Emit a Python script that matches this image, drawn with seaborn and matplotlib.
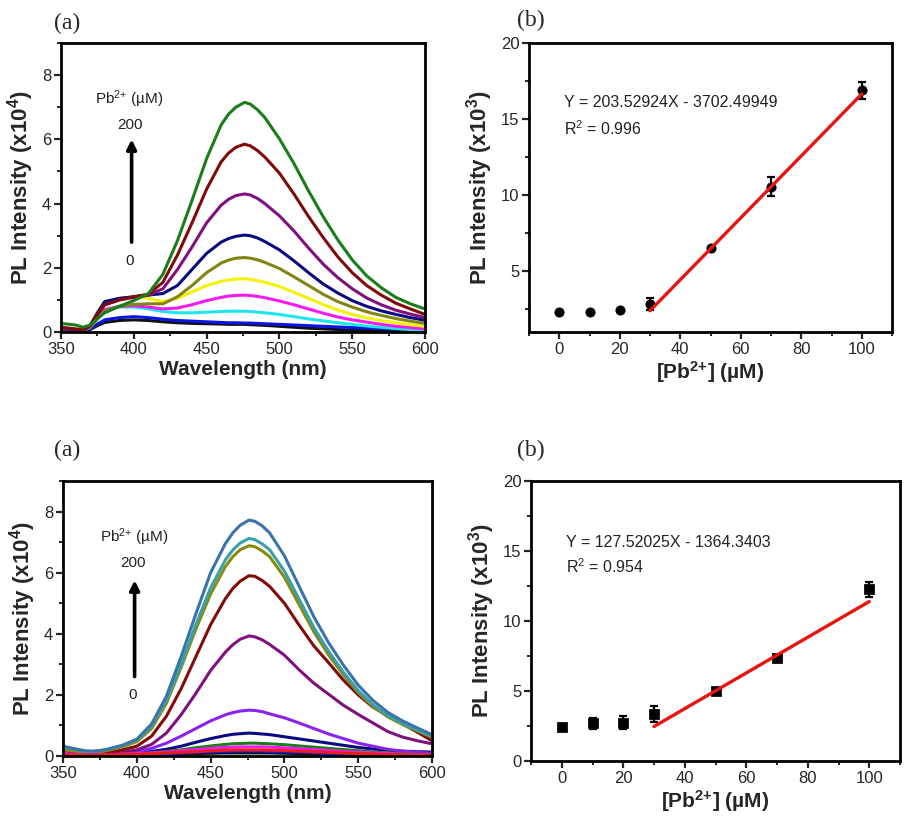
import numpy as np
import pandas as pd
import matplotlib
matplotlib.use("Agg")
import matplotlib.pyplot as plt
import seaborn as sns
from matplotlib.ticker import MultipleLocator

sns.set_theme(style="ticks")
plt.rcParams['font.family'] = ['Liberation Sans', 'DejaVu Sans']
plt.rcParams['mathtext.fontset'] = 'custom'
plt.rcParams['mathtext.rm'] = 'Liberation Sans'
plt.rcParams['mathtext.bf'] = 'Liberation Sans:bold'
plt.rcParams['mathtext.it'] = 'Liberation Sans:italic'

# ---------------- data ----------------
wavelength = [350, 360, 365, 370, 375, 380, 390, 400, 410, 420, 430, 440, 450, 460, 465, 470,
              476, 480, 485, 490, 500, 510, 520, 530, 540, 550, 560, 570, 580, 590, 600]

# top-left spectra (x10^4)
top_green   = [.27,.22,.15,.22,.42,.6,.8,.98,1.2,1.8,2.85,4.1,5.4,6.45,6.78,7.0,7.15,7.1,6.92,6.68,6.02,5.25,4.4,3.6,2.88,2.25,1.75,1.38,1.08,.88,.72]
top_maroon  = [.15,.1,.07,.2,.55,.85,1.0,1.1,1.18,1.55,2.4,3.4,4.45,5.3,5.57,5.75,5.85,5.8,5.65,5.45,4.95,4.3,3.6,2.95,2.35,1.85,1.45,1.15,.9,.72,.55]
top_purple  = [.12,.08,.06,.2,.55,.85,1.0,1.08,1.15,1.35,1.95,2.65,3.4,3.95,4.13,4.25,4.3,4.27,4.16,4.0,3.62,3.15,2.62,2.12,1.7,1.35,1.06,.85,.68,.56,.45]
top_navy    = [.1,.07,.05,.2,.6,.95,1.05,1.1,1.15,1.2,1.45,1.95,2.45,2.8,2.91,2.98,3.02,3.0,2.93,2.82,2.56,2.22,1.85,1.5,1.22,.98,.8,.66,.55,.45,.37]
top_olive   = [.1,.07,.05,.15,.4,.65,.8,.86,.88,.88,1.1,1.45,1.85,2.15,2.24,2.3,2.32,2.3,2.25,2.17,1.98,1.72,1.45,1.18,.95,.78,.63,.52,.42,.34,.27]
top_yellow  = [.1,.07,.05,.2,.6,.95,1.05,1.1,1.05,.95,1.05,1.25,1.45,1.58,1.62,1.65,1.66,1.64,1.6,1.55,1.42,1.24,1.05,.86,.69,.55,.44,.36,.29,.23,.18]
top_magenta = [.08,.06,.05,.15,.45,.7,.8,.82,.78,.72,.75,.85,.98,1.08,1.12,1.14,1.15,1.14,1.11,1.07,.97,.85,.72,.59,.47,.38,.31,.24,.18,.14,.1]
top_cyan    = [.08,.06,.05,.15,.45,.68,.78,.78,.72,.64,.6,.6,.62,.64,.65,.65,.65,.64,.62,.6,.55,.48,.41,.35,.29,.24,.19,.15,.11,.08,.06]
top_blue    = [.06,.05,.04,.1,.25,.38,.45,.48,.45,.4,.36,.34,.32,.3,.29,.29,.28,.28,.27,.26,.24,.22,.2,.18,.16,.14,.13,.11,.1,.09,.08]
top_black   = [.05,.04,.03,.08,.2,.3,.36,.38,.36,.32,.29,.27,.26,.25,.24,.24,.24,.23,.22,.21,.18,.15,.12,.1,.08,.06,.05,.04,.03,.03,.02]

# bottom-left spectra (x10^4)
bot_steel   = [.32,.22,.17,.16,.18,.22,.35,.55,1.05,1.95,3.25,4.65,6.0,6.95,7.3,7.55,7.72,7.68,7.53,7.3,6.55,5.55,4.55,3.7,2.97,2.32,1.82,1.43,1.15,.92,.7]
bot_teal    = [.3,.2,.15,.15,.17,.22,.34,.52,.98,1.82,3.0,4.3,5.5,6.42,6.74,6.97,7.12,7.08,6.94,6.75,6.05,5.13,4.2,3.42,2.74,2.14,1.68,1.32,1.07,.85,.65]
bot_olive   = [.2,.15,.12,.12,.14,.18,.3,.47,.9,1.72,2.9,4.15,5.3,6.2,6.52,6.75,6.88,6.85,6.71,6.52,5.85,4.95,4.06,3.3,2.65,2.07,1.62,1.28,1.03,.82,.62]
bot_maroon  = [.15,.1,.08,.08,.1,.12,.2,.32,.65,1.3,2.2,3.25,4.3,5.15,5.48,5.72,5.9,5.88,5.74,5.55,5.0,4.28,3.6,3.05,2.48,2.0,1.6,1.32,1.05,.78,.5]
bot_purple  = [.12,.08,.06,.06,.07,.08,.12,.2,.38,.75,1.35,2.05,2.8,3.4,3.64,3.82,3.93,3.9,3.8,3.65,3.3,2.82,2.38,2.02,1.66,1.36,1.08,.8,.62,.5,.4]
bot_violet  = [.05,.05,.05,.06,.07,.08,.1,.14,.25,.42,.65,.9,1.15,1.35,1.42,1.47,1.5,1.49,1.45,1.38,1.25,1.08,.9,.72,.57,.42,.32,.22,.16,.12,.09]
bot_navy    = [.06,.05,.04,.04,.05,.05,.07,.1,.15,.22,.32,.45,.57,.67,.71,.73,.75,.74,.72,.7,.63,.56,.49,.42,.35,.28,.23,.19,.16,.14,.13]
bot_green   = [.04,.04,.03,.03,.04,.04,.05,.07,.1,.15,.2,.27,.33,.38,.4,.41,.42,.42,.41,.4,.37,.33,.29,.25,.21,.17,.13,.1,.08,.06,.05]
bot_magenta = [.08,.05,.04,.04,.05,.05,.06,.08,.1,.13,.17,.21,.25,.28,.29,.3,.3,.3,.3,.29,.27,.24,.21,.18,.15,.12,.1,.08,.06,.05,.04]
bot_red     = [.04,.03,.03,.03,.03,.04,.05,.06,.08,.1,.12,.14,.17,.19,.2,.2,.2,.2,.2,.19,.18,.16,.14,.12,.1,.08,.07,.05,.04,.03,.03]
bot_blue    = [.03,.03,.02,.02,.03,.03,.04,.05,.06,.08,.1,.12,.14,.15,.16,.16,.16,.16,.16,.15,.14,.13,.11,.09,.08,.07,.06,.05,.04,.03,.03]
bot_black   = [.02,.02,.02,.02,.02,.02,.03,.04,.05,.06,.07,.08,.09,.1,.1,.1,.1,.1,.1,.1,.09,.08,.07,.06,.05,.04,.04,.03,.03,.02,.02]

# calibration data (x10^3)
conc = [0, 10, 20, 30, 50, 70, 100]
top_int = [2.3, 2.35, 2.42, 2.85, 6.5, 10.55, 16.9]
top_err = [0.05, 0.05, 0.05, 0.4, 0.12, 0.62, 0.55]
bot_int = [2.45, 2.68, 2.74, 3.36, 5.02, 7.33, 12.26]
bot_err = [0.22, 0.42, 0.47, 0.55, 0.15, 0.2, 0.52]
fit_range = [30, 100]
top_slope, top_icpt = 203.52924, -3702.49949
bot_slope, bot_icpt = 127.52025, -1364.3403

# ---------------- figure ----------------
fig = plt.figure(figsize=(9.08, 8.24), dpi=100)
ax_tl = fig.add_axes([0.0672, 0.597, 0.4008, 0.3508])
ax_tr = fig.add_axes([0.5826, 0.597, 0.3998, 0.3508])
ax_bl = fig.add_axes([0.0694, 0.0825, 0.4064, 0.3338])
ax_br = fig.add_axes([0.5848, 0.0765, 0.4064, 0.3398])

LAB = 15
TICK = 12


def style_axis(ax):
    for s in ax.spines.values():
        s.set_linewidth(2.0)
        s.set_color('black')
    ax.tick_params(which='major', direction='out', length=5, width=1.6, labelsize=TICK,
                   top=False, right=False, pad=2)
    ax.tick_params(which='minor', direction='out', length=3, width=1.4, top=False, right=False)


def spectra(ax, curves, colors):
    rows = []
    for name, vals in curves:
        for w, v in zip(wavelength, vals):
            rows.append((name, w, v))
    df = pd.DataFrame(rows, columns=['curve', 'wl', 'I'])
    names = [n for n, _ in curves]
    sns.lineplot(data=df, x='wl', y='I', hue='curve', hue_order=names,
                 palette=dict(zip(names, colors)), estimator=None, sort=False,
                 linewidth=2.2, legend=False, ax=ax)
    for ln in ax.get_lines():
        ln.set_solid_joinstyle('round')
    ax.set_xlim(350, 600)
    ax.set_ylim(0, 9)
    ax.xaxis.set_major_locator(MultipleLocator(50))
    ax.xaxis.set_minor_locator(MultipleLocator(25))
    ax.yaxis.set_major_locator(MultipleLocator(2))
    ax.yaxis.set_minor_locator(MultipleLocator(1))
    ax.set_xlabel('Wavelength (nm)', fontsize=LAB, fontweight='bold', labelpad=2)
    ax.set_ylabel(r'PL Intensity (x10$^\mathbf{4}$)', fontsize=LAB + 1, fontweight='bold', labelpad=4)
    style_axis(ax)


spectra(ax_tl,
        [('black', top_black), ('blue', top_blue), ('cyan', top_cyan), ('magenta', top_magenta),
         ('yellow', top_yellow), ('olive', top_olive), ('navy', top_navy), ('purple', top_purple),
         ('maroon', top_maroon), ('green', top_green)],
        ['#101010', '#0a14e6', '#1ee6f0', '#f21cf2', '#f5f20a', '#848412', '#0a0a80', '#80107e',
         '#800a0a', '#1a7d1a'])

spectra(ax_bl,
        [('navy', bot_navy), ('violet', bot_violet), ('purple', bot_purple), ('maroon', bot_maroon),
         ('olive', bot_olive), ('teal', bot_teal), ('steel', bot_steel), ('green', bot_green),
         ('black', bot_black), ('blue', bot_blue), ('magenta', bot_magenta), ('red', bot_red)],
        ['#0a0a80', '#8a22f0', '#80107e', '#820a0a', '#8a8a10', '#3aa0a8', '#3a74a8', '#1a7d1a',
         '#101010', '#1a1ae6', '#f21cf2', '#f01a1a'])

# annotations on spectra
for ax, (tx, ty, y200, y0, ya, yb) in [(ax_tl, (397, 7.25, 6.45, 2.2, 2.8, 6.0)),
                                         (ax_bl, (398, 7.15, 6.3, 2.0, 2.6, 5.75))]:
    ax.text(tx, ty, r'Pb$^{2{+}}$ (µM)', fontsize=11, ha='center', va='center', color='#222222')
    ax.text(397.5, y200, '200', fontsize=11, ha='center', va='center', color='#222222')
    ax.text(397, y0, '0', fontsize=11, ha='center', va='center', color='#222222')
    ax.annotate('', xy=(398.5, yb), xytext=(398.5, ya),
                arrowprops=dict(arrowstyle='-|>', lw=2.6, color='black', mutation_scale=14,
                                shrinkA=0, shrinkB=0))


def calib(ax, y, err, slope, icpt, marker, eq, r2, ylow, ty):
    ax.errorbar(conc, y, yerr=err, fmt='none', ecolor='black', elinewidth=1.6,
                capsize=3, capthick=1.6, zorder=3)
    sns.scatterplot(x=conc, y=y, marker=marker, s=45, color='black', edgecolor='black',
                    ax=ax, zorder=4)
    fx = np.array(fit_range, dtype=float)
    sns.lineplot(x=fx, y=(slope * fx + icpt) / 1000.0, color='#e8140f', linewidth=2.4,
                 ax=ax, zorder=5)
    ax.set_xlim(-10, 110)
    ax.set_ylim(ylow, 20)
    ax.xaxis.set_major_locator(MultipleLocator(20))
    ax.xaxis.set_minor_locator(MultipleLocator(10))
    ax.yaxis.set_major_locator(MultipleLocator(5))
    ax.yaxis.set_minor_locator(MultipleLocator(2.5))
    ax.set_xlabel(r'[Pb$^{\mathbf{2{+}}}$] (µM)', fontsize=LAB, fontweight='bold', labelpad=2)
    ax.set_ylabel(r'PL Intensity (x10$^\mathbf{3}$)', fontsize=LAB + 1, fontweight='bold', labelpad=4)
    ax.text(1.5, ty, eq, fontsize=11.5, ha='left', va='center', color='#222222')
    ax.text(1.5, ty - 1.75, r2, fontsize=11.5, ha='left', va='center', color='#222222')
    style_axis(ax)


calib(ax_tr, top_int, top_err, top_slope, top_icpt, 'o',
      'Y = 203.52924X - 3702.49949', r'R$^2$ = 0.996', 1.0, 16.1)
calib(ax_br, bot_int, bot_err, bot_slope, bot_icpt, 's',
      'Y = 127.52025X - 1364.3403', r'R$^2$ = 0.954', 0.0, 15.6)

# panel labels
for x, y, t in [(0.0743, 0.972, '(a)'), (0.585, 0.975, '(b)'),
                (0.0743, 0.453, '(a)'), (0.585, 0.453, '(b)')]:
    fig.text(x, y, t, fontsize=17, family='Liberation Serif', ha='center', va='center')

fig.savefig('out.png', dpi=100)
